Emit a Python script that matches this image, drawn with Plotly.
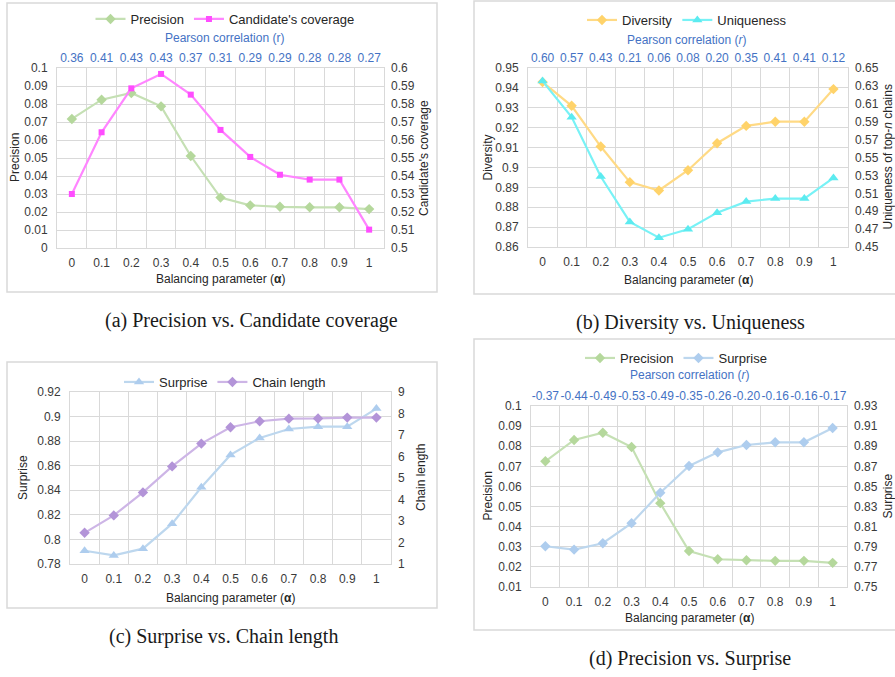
import plotly.graph_objects as go

# ---------------- data ----------------
alpha = ["0", "0.1", "0.2", "0.3", "0.4", "0.5", "0.6", "0.7", "0.8", "0.9", "1"]

a_precision = [0.0717, 0.0824, 0.0861, 0.0787, 0.0511, 0.0280, 0.0237, 0.0229, 0.0226, 0.0226, 0.0216]
a_coverage = [0.5300, 0.5643, 0.5887, 0.5967, 0.5852, 0.5656, 0.5506, 0.5407, 0.5380, 0.5380, 0.5102]
a_pearson = ["0.36", "0.41", "0.43", "0.43", "0.37", "0.31", "0.29", "0.29", "0.28", "0.28", "0.27"]

b_diversity = [0.9429, 0.9310, 0.9105, 0.8926, 0.8884, 0.8986, 0.9122, 0.9209, 0.9230, 0.9230, 0.9394]
b_uniqueness = [0.6354, 0.5951, 0.5287, 0.4780, 0.4604, 0.4698, 0.4884, 0.5007, 0.5041, 0.5041, 0.5272]
b_pearson = ["0.60", "0.57", "0.43", "0.21", "0.06", "0.08", "0.20", "0.35", "0.41", "0.41", "0.12"]

c_surprise = [0.7908, 0.7870, 0.7925, 0.8128, 0.8425, 0.8688, 0.8826, 0.8899, 0.8918, 0.8918, 0.9065]
c_chain_length = [2.45, 3.26, 4.33, 5.54, 6.60, 7.36, 7.64, 7.76, 7.77, 7.81, 7.81]

d_precision = [0.0725, 0.0831, 0.0867, 0.0796, 0.0517, 0.0279, 0.0238, 0.0233, 0.0230, 0.0230, 0.0220]
d_surprise = [0.7905, 0.7872, 0.7935, 0.8135, 0.8437, 0.8703, 0.8839, 0.8912, 0.8939, 0.8939, 0.9081]
d_pearson = ["-0.37", "-0.44", "-0.49", "-0.53", "-0.49", "-0.35", "-0.26", "-0.20", "-0.16", "-0.16", "-0.17"]

# ---------------- layout helpers ----------------
W, H = 895, 677


def fx(x):
    return x / W


def fy(y):
    return 1 - y / H


GRID = "#D9D9D9"
TICK = "#3a3a3a"
BLUE = "#4472C4"
FONT = "Liberation Sans, Arial, sans-serif"
SERIF = "Liberation Serif, Times New Roman, serif"

GREEN_L, GREEN_M = "#C5E0B4", "#B5D89C"
PINK_L, PINK_M = "#FF85FF", "#FF4DFF"
GOLD_L, GOLD_M = "#FFDA85", "#FFD36A"
CYAN_L, CYAN_M = "#78F2F6", "#5CEBF0"
SKY_L, SKY_M = "#BDD7EE", "#AECDEE"
LILAC_L, LILAC_M = "#CDB5E6", "#B394D8"

fig = go.Figure()
layout = dict(
    template="none",
    width=W, height=H, margin=dict(l=0, r=0, t=0, b=0, autoexpand=False),
    paper_bgcolor="white", plot_bgcolor="white",
    font=dict(family=FONT, color=TICK, size=11.5),
    showlegend=True,
)
annotations = []
shapes = []

panels = [
    dict(key="a", xb=1, xt=2, yl=1, yr=2, legend="legend",
         plot=(57, 384, 68, 248), border=(7, 437, 3, 292),
         legpos=(225, 19), ptitle=(224, 38), ptitle_text="Pearson correlation (r)",
         ltitle=(15, "Precision"), rtitle=(424, "Candidate's coverage"), xtitle=279,
         caption=(252, 320, "(a) Precision vs. Candidate coverage"),
         pearson=a_pearson,
         left=dict(name="Precision", y=a_precision, color=GREEN_L, mcolor=GREEN_M, symbol="diamond", size=8,
                   range=[0, 0.1], tick0=0, dtick=0.01),
         right=dict(name="Candidate's coverage", y=a_coverage, color=PINK_L, mcolor=PINK_M,
                    symbol="square", size=6, range=[0.5, 0.6], tick0=0.5, dtick=0.01)),
    dict(key="b", xb=3, xt=4, yl=3, yr=4, legend="legend2",
         plot=(528, 848, 68, 247), border=(474, 905, 1, 294),
         legpos=(687, 20), ptitle=(686, 40), ptitle_text="Pearson correlation (<i>r</i>)",
         ltitle=(488, "Diversity"), rtitle=(888, "Uniqueness of top-<i>n</i> chains"), xtitle=280,
         caption=(690, 322, "(b) Diversity vs. Uniqueness"),
         pearson=b_pearson,
         left=dict(name="Diversity", y=b_diversity, color=GOLD_L, mcolor=GOLD_M, symbol="diamond", size=8,
                   range=[0.86, 0.95], tick0=0.86, dtick=0.01),
         right=dict(name="Uniqueness", y=b_uniqueness, color=CYAN_L, mcolor=CYAN_M, symbol="triangle-up",
                    size=9, range=[0.45, 0.65], tick0=0.45, dtick=0.02)),
    dict(key="c", xb=5, xt=None, yl=5, yr=6, legend="legend3",
         plot=(70, 391, 392, 564), border=(7, 437, 362, 608),
         legpos=(225, 382), ptitle=None, ptitle_text=None,
         ltitle=(23, "Surprise"), rtitle=(421, "Chain length"), xtitle=598,
         caption=(223, 636, "(c) Surprise vs. Chain length"),
         pearson=None,
         left=dict(name="Surprise", y=c_surprise, color=SKY_L, mcolor=SKY_M, symbol="triangle-up", size=9,
                   range=[0.78, 0.92], tick0=0.78, dtick=0.02),
         right=dict(name="Chain length", y=c_chain_length, color=LILAC_L, mcolor=LILAC_M,
                    symbol="diamond", size=8, range=[1, 9], tick0=1, dtick=1)),
    dict(key="d", xb=6, xt=7, yl=7, yr=8, legend="legend4",
         plot=(531, 847, 406, 587), border=(474, 905, 339, 630),
         legpos=(676, 358), ptitle=(689, 375), ptitle_text="Pearson correlation (<i>r</i>)",
         ltitle=(487, "Precision"), rtitle=(887, "Surprise"), xtitle=618,
         caption=(690, 658, "(d) Precision vs. Surprise"),
         pearson=d_pearson,
         left=dict(name="Precision", y=d_precision, color=GREEN_L, mcolor=GREEN_M, symbol="diamond", size=8,
                   range=[0.01, 0.1], tick0=0.01, dtick=0.01),
         right=dict(name="Surprise", y=d_surprise, color=SKY_L, mcolor=SKY_M, symbol="diamond", size=8,
                    range=[0.75, 0.93], tick0=0.75, dtick=0.02)),
]


def ax_name(prefix, n):
    return prefix if n == 1 else f"{prefix}{n}"


def ax_ref(prefix, n):
    return prefix if n == 1 else f"{prefix}{n}"


for p in panels:
    x0, x1, y0, y1 = p["plot"]
    xdom = [fx(x0), fx(x1)]
    ydom = [fy(y1), fy(y0)]
    xb, yl, yr, xt = p["xb"], p["yl"], p["yr"], p["xt"]

    layout[ax_name("xaxis", xb)] = dict(
        domain=xdom, anchor=ax_ref("y", yl), type="category",
        categoryorder="array", categoryarray=alpha, range=[-0.5, 10.5],
        tickson="boundaries", ticks="", showgrid=True, gridcolor=GRID, gridwidth=1,
        showline=True, linecolor=GRID, linewidth=1, mirror=True, automargin=False,
        tickfont=dict(size=12, color=TICK), ticklabelstandoff=4, zeroline=False,
        tickangle=0,
    )
    layout[ax_name("yaxis", yl)] = dict(
        domain=ydom, anchor=ax_ref("x", xb), range=p["left"]["range"],
        tick0=p["left"]["tick0"], dtick=p["left"]["dtick"], tickmode="linear",
        showgrid=True, gridcolor=GRID, gridwidth=1, zeroline=False, automargin=False,
        showline=True, linecolor=GRID, linewidth=1, mirror=True, ticks="",
        tickfont=dict(size=12, color=TICK), ticklabelstandoff=6,
    )
    layout[ax_name("yaxis", yr)] = dict(
        overlaying=ax_ref("y", yl), side="right", anchor=ax_ref("x", xb),
        range=p["right"]["range"], tick0=p["right"]["tick0"], dtick=p["right"]["dtick"],
        tickmode="linear", showgrid=False, zeroline=False, showline=False, ticks="",
        automargin=False,
        tickfont=dict(size=12, color=TICK), ticklabelstandoff=6,
    )
    right_x = ax_ref("x", xb)
    if xt is not None:
        layout[ax_name("xaxis", xt)] = dict(
            overlaying=ax_ref("x", xb), side="top", anchor=ax_ref("y", yl), type="category",
            categoryorder="array", categoryarray=alpha, range=[-0.5, 10.5],
            tickmode="array", tickvals=alpha, ticktext=p["pearson"],
            showgrid=False, showline=False, ticks="", zeroline=False, automargin=False,
            tickangle=0,
            tickfont=dict(size=12, color=BLUE), ticklabelstandoff=3,
        )
        right_x = ax_ref("x", xt)

    L, R = p["left"], p["right"]
    fig.add_trace(go.Scatter(
        x=alpha, y=L["y"], name=L["name"], mode="lines+markers",
        line=dict(color=L["color"], width=2.2),
        marker=dict(symbol=L["symbol"], size=L["size"], color=L["mcolor"]),
        xaxis=ax_ref("x", xb), yaxis=ax_ref("y", yl), legend=p["legend"],
    ))
    fig.add_trace(go.Scatter(
        x=alpha, y=R["y"], name=R["name"], mode="lines+markers",
        line=dict(color=R["color"], width=2.2),
        marker=dict(symbol=R["symbol"], size=R["size"], color=R["mcolor"]),
        xaxis=right_x, yaxis=ax_ref("y", yr), legend=p["legend"],
    ))

    lx, ly = p["legpos"]
    layout[p["legend"]] = dict(
        orientation="h", x=fx(lx), y=fy(ly), xanchor="center", yanchor="middle",
        xref="paper", yref="paper", bgcolor="rgba(0,0,0,0)",
        font=dict(size=13, color="#262626", family=FONT), itemwidth=30,
        tracegroupgap=0,
    )

    if p["ptitle"] is not None:
        tx, ty = p["ptitle"]
        annotations.append(dict(x=fx(tx), y=fy(ty), xref="paper", yref="paper",
                                text=p["ptitle_text"], showarrow=False,
                                font=dict(size=12, color=BLUE, family=FONT),
                                xanchor="center", yanchor="middle"))
    # axis titles
    annotations.append(dict(x=fx(p["ltitle"][0]), y=fy((y0 + y1) / 2), xref="paper", yref="paper",
                            text=p["ltitle"][1], showarrow=False, textangle=-90,
                            font=dict(size=12, color="#262626", family=FONT),
                            xanchor="center", yanchor="middle"))
    annotations.append(dict(x=fx(p["rtitle"][0]), y=fy((y0 + y1) / 2), xref="paper", yref="paper",
                            text=p["rtitle"][1], showarrow=False, textangle=-90,
                            font=dict(size=12, color="#262626", family=FONT),
                            xanchor="center", yanchor="middle"))
    annotations.append(dict(x=fx((x0 + x1) / 2), y=fy(p["xtitle"]), xref="paper", yref="paper",
                            text="Balancing parameter (<b>α</b>)", showarrow=False,
                            font=dict(size=12, color="#262626", family=FONT),
                            xanchor="center", yanchor="middle"))
    cx, cy, ctext = p["caption"]
    annotations.append(dict(x=fx(cx), y=fy(cy), xref="paper", yref="paper",
                            text=ctext, showarrow=False,
                            font=dict(size=20, color="#1a1a1a", family=SERIF),
                            xanchor="center", yanchor="middle"))
    bx0, bx1, by0, by1 = p["border"]
    shapes.append(dict(type="rect", xref="paper", yref="paper",
                       x0=fx(bx0), x1=fx(bx1), y0=fy(by1), y1=fy(by0),
                       line=dict(color=GRID, width=1.5), layer="below"))

layout["annotations"] = annotations
layout["shapes"] = shapes
fig.update_layout(**layout)
fig.write_html("out.html", config={"displayModeBar": False},
               post_script="document.body.style.margin='0';document.body.style.overflow='hidden';")
